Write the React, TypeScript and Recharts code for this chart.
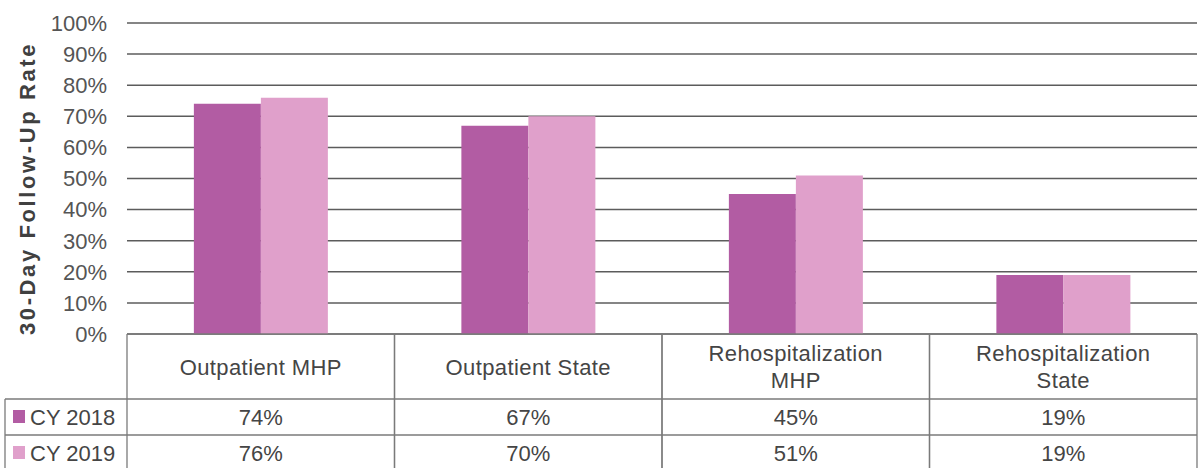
import React from 'react';
import { BarChart, Bar, XAxis, YAxis, CartesianGrid } from 'recharts';

const categories = [
  ['Outpatient MHP'],
  ['Outpatient State'],
  ['Rehospitalization', 'MHP'],
  ['Rehospitalization', 'State'],
];
const cy2018 = [74, 67, 45, 19];
const cy2019 = [76, 70, 51, 19];
const seriesNames = ['CY 2018', 'CY 2019'];
const yTicks = [0, 10, 20, 30, 40, 50, 60, 70, 80, 90, 100];

const COLORS = ['#B25CA3', '#E0A0CB'];
const LINE = '#7a7a7a';
const TEXT = '#454545';
const FONT = '"Liberation Sans", Arial, sans-serif';

const data = categories.map((c, i) => ({
  name: c.join(' '),
  y2018: cy2018[i],
  y2019: cy2019[i],
}));

const W = 1201;
const H = 468;
const TOP = 23;
const AXIS_Y = 334;
const ROW1 = 399;
const ROW2 = 435;

// draws one column of the data table under each category
const TableTick = (props: any) => {
  const { x, y, payload, index } = props;
  const half = payload && payload.offset ? payload.offset : 133.75;
  const lines = categories[index] || [];
  const left = x - half;
  const right = x + half;
  const vals = [cy2018[index], cy2019[index]];
  return (
    <g fontFamily={FONT}>
      <line x1={left} x2={left} y1={AXIS_Y} y2={H} stroke={LINE} strokeWidth={1.3} />
      <line x1={right} x2={right} y1={AXIS_Y} y2={H} stroke={LINE} strokeWidth={1.3} />
      <line x1={left} x2={right} y1={ROW1} y2={ROW1} stroke={LINE} strokeWidth={1.3} />
      <line x1={left} x2={right} y1={ROW2} y2={ROW2} stroke={LINE} strokeWidth={1.3} />
      {lines.length === 1 ? (
        <text x={x} y={367} textAnchor="middle" dominantBaseline="central" fontSize={22} fill={TEXT} letterSpacing={0.4}>
          {lines[0]}
        </text>
      ) : (
        lines.map((l, i) => (
          <text key={i} x={x} y={353 + i * 27} textAnchor="middle" dominantBaseline="central" fontSize={22} fill={TEXT} letterSpacing={0.4}>
            {l}
          </text>
        ))
      )}
      {vals.map((v, i) => (
        <text key={'v' + i} x={x} y={i === 0 ? 417 : 453} textAnchor="middle" dominantBaseline="central" fontSize={22} fill={TEXT}>
          {v}%
        </text>
      ))}
      {index === 0 && (
        <g>
          <line x1={5} x2={left} y1={ROW1} y2={ROW1} stroke={LINE} strokeWidth={1.3} />
          <line x1={5} x2={left} y1={ROW2} y2={ROW2} stroke={LINE} strokeWidth={1.3} />
          <line x1={5} x2={5} y1={ROW1} y2={H} stroke={LINE} strokeWidth={1.3} />
          {seriesNames.map((s, i) => (
            <g key={s}>
              <rect x={13} y={(i === 0 ? 417 : 453) - 7} width={12} height={13} fill={COLORS[i]} />
              <text x={30} y={i === 0 ? 417 : 453} dominantBaseline="central" fontSize={22} fill={TEXT}>
                {s}
              </text>
            </g>
          ))}
        </g>
      )}
    </g>
  );
};

const YLabel = () => (
  <text
    transform={`rotate(-90, 27, ${(TOP + AXIS_Y) / 2 + 10})`}
    x={27}
    y={(TOP + AXIS_Y) / 2 + 10}
    textAnchor="middle"
    dominantBaseline="central"
    fontFamily={FONT}
    fontSize={22}
    fontWeight="bold"
    fill="#404040"
    letterSpacing={2.6}
  >
    30-Day Follow-Up Rate
  </text>
);

export default function App() {
  return (
    <div style={{ position: 'absolute', left: 0, top: 0, width: W, height: H, background: '#fff' }}>
      <BarChart
        width={W}
        height={H}
        data={data}
        margin={{ top: TOP, right: 4, left: 0, bottom: 0 }}
        barCategoryGap="25%"
        barGap={0}
      >
        <CartesianGrid vertical={false} stroke="#5c5c5c" strokeWidth={1.5} />
        <XAxis
          dataKey="name"
          height={H - AXIS_Y}
          interval={0}
          tickLine={false}
          axisLine={{ stroke: LINE, strokeWidth: 1.3 }}
          tick={<TableTick />}
        />
        <YAxis
          width={127}
          domain={[0, 100]}
          ticks={yTicks}
          interval={0}
          tickFormatter={(v: number) => `${v}%`}
          tickLine={false}
          axisLine={false}
          tickSize={0}
          tickMargin={20}
          tick={{ fontSize: 22, fill: '#555555', fontFamily: FONT }}
          label={<YLabel />}
        />
        <Bar dataKey="y2018" name={seriesNames[0]} fill={COLORS[0]} isAnimationActive={false} />
        <Bar dataKey="y2019" name={seriesNames[1]} fill={COLORS[1]} isAnimationActive={false} />
      </BarChart>
    </div>
  );
}
